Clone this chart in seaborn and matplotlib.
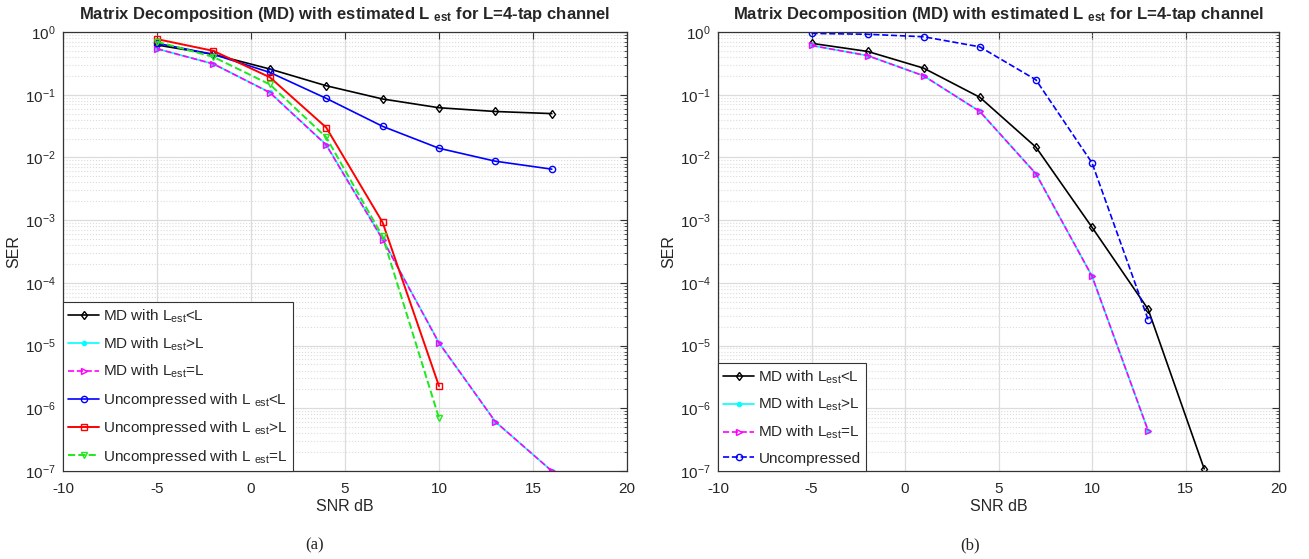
import numpy as np
import pandas as pd
import matplotlib
matplotlib.use("Agg")
import matplotlib.pyplot as plt
import seaborn as sns
from matplotlib.ticker import LogLocator, NullFormatter, MultipleLocator

# ---------------- data ----------------
snr = [-5, -2, 1, 4, 7, 10, 13, 16]

# panel (a)
a_md_lt = [0.62, 0.44, 0.257, 0.139, 0.0855, 0.062, 0.054, 0.050]
a_md_gt = [0.54, 0.31, 0.109, 0.016, 5.0e-4, 1.11e-5, 6.1e-7, 1.0e-7]
a_md_eq = [0.54, 0.31, 0.108, 0.0158, 4.9e-4, 1.10e-5, 6.1e-7, 1.0e-7]
a_un_lt = [0.66, 0.44, 0.227, 0.0875, 0.0313, 0.014, 0.0087, 0.0065]
snr_short = [-5, -2, 1, 4, 7, 10]
a_un_gt = [0.77, 0.50, 0.19, 0.030, 9.2e-4, 2.26e-6]
a_un_eq = [0.70, 0.40, 0.146, 0.021, 5.5e-4, 7.0e-7]

# panel (b)
b_md_lt = [0.66, 0.49, 0.265, 0.091, 0.0146, 7.7e-4, 3.8e-5, 1.08e-7]
snr_b7 = [-5, -2, 1, 4, 7, 10, 13]
b_md_gt = [0.61, 0.42, 0.20, 0.054, 0.0055, 1.28e-4, 4.4e-7]
b_md_eq = [0.61, 0.42, 0.20, 0.054, 0.0055, 1.28e-4, 4.4e-7]
b_uncomp = [0.95, 0.92, 0.84, 0.58, 0.173, 0.0082, 2.6e-5]

title = r"Matrix Decomposition (MD) with estimated L $_{\mathbf{est}}$ for L=4-tap channel"
lab_md_lt = r"MD with L$_{\mathregular{est}}$<L"
lab_md_gt = r"MD with L$_{\mathregular{est}}$>L"
lab_md_eq = r"MD with L$_{\mathregular{est}}$=L"
lab_un_lt = r"Uncompressed with L $_{\mathregular{est}}$<L"
lab_un_gt = r"Uncompressed with L $_{\mathregular{est}}$>L"
lab_un_eq = r"Uncompressed with L $_{\mathregular{est}}$=L"
lab_uncomp = "Uncompressed"

# ---------------- style ----------------
sns.set_style("white")
plt.rcParams["font.family"] = ["Liberation Sans", "DejaVu Sans"]
plt.rcParams["mathtext.fontset"] = "custom"
plt.rcParams["mathtext.rm"] = "Liberation Sans"
plt.rcParams["mathtext.it"] = "Liberation Sans:italic"
plt.rcParams["mathtext.bf"] = "Liberation Sans:bold"
plt.rcParams["axes.unicode_minus"] = False

fig = plt.figure(figsize=(13.09, 5.59), dpi=100)
ax1 = fig.add_axes([63/1309, 1-471/559, (627-63)/1309, (471-32)/559])
ax2 = fig.add_axes([718/1309, 1-471/559, (1279-718)/1309, (471-32)/559])

def line(ax, x, y, color, marker, ls, label, lw=1.2, ms=4.5, mfc="none"):
    sns.lineplot(x=x, y=y, ax=ax, color=color, marker=marker, linestyle=ls,
                 label=label, linewidth=lw, markersize=ms,
                 markeredgecolor=color, markerfacecolor=mfc,
                 markeredgewidth=1.0, estimator=None, sort=False)

GREEN = "#1fe81f"

line(ax1, snr, a_md_lt, "black", "d", "-", lab_md_lt)
line(ax1, snr, a_md_gt, "cyan", ".", "-", lab_md_gt, ms=6, mfc="cyan")
line(ax1, snr, a_md_eq, "magenta", ">", "--", lab_md_eq, ms=5)
line(ax1, snr, a_un_lt, "blue", "o", "-", lab_un_lt)
line(ax1, snr_short, a_un_gt, "red", "s", "-", lab_un_gt, lw=1.4, ms=4)
line(ax1, snr_short, a_un_eq, GREEN, "v", "--", lab_un_eq, lw=1.4, ms=5)

line(ax2, snr, b_md_lt, "black", "d", "-", lab_md_lt)
line(ax2, snr_b7, b_md_gt, "cyan", ".", "-", lab_md_gt, ms=6, mfc="cyan")
line(ax2, snr_b7, b_md_eq, "magenta", ">", "--", lab_md_eq, ms=5)
line(ax2, snr_b7, b_uncomp, "blue", "o", "--", lab_uncomp)

for ax in (ax1, ax2):
    ax.set_yscale("log")
    ax.set_xlim(-10, 20)
    ax.set_ylim(1e-7, 1)
    ax.xaxis.set_major_locator(MultipleLocator(5))
    ax.yaxis.set_major_locator(LogLocator(base=10, numticks=20))
    ax.yaxis.set_minor_locator(LogLocator(base=10, subs=np.arange(2, 10), numticks=20))
    ax.yaxis.set_minor_formatter(NullFormatter())
    ax.grid(True, which="major", axis="both", color="#dcdcdc", linewidth=0.9, linestyle="-")
    ax.grid(True, which="minor", axis="y", color="#dcdcdc", linewidth=0.8, linestyle=":")
    ax.set_axisbelow(True)
    ax.tick_params(which="both", direction="in", top=True, right=True,
                   labelsize=11, color="#333333")
    ax.tick_params(axis="x", which="major", pad=8)
    ax.tick_params(axis="y", which="major", pad=5)
    ax.tick_params(which="major", length=5, width=0.8)
    ax.tick_params(which="minor", length=2.5, width=0.6)
    for sp in ax.spines.values():
        sp.set_color("#333333")
        sp.set_linewidth(0.9)
    ax.set_xlabel("SNR dB", fontsize=11.5, labelpad=2)
    ax.set_ylabel("SER", fontsize=11.5, labelpad=3)
    ax.set_title(title, fontsize=12, fontweight="bold", pad=9)
    leg = ax.legend(loc="lower left", bbox_to_anchor=(0, 0), borderaxespad=0.0,
                    fontsize=11, frameon=True, fancybox=False, framealpha=1,
                    edgecolor="#333333", handlelength=2.0, handletextpad=0.3,
                    labelspacing=0.68, borderpad=0.35)
    leg.get_frame().set_linewidth(0.8)

fig.text(315/1309, 1-545/559, "(a)", ha="center", va="center",
         family=["Liberation Serif", "DejaVu Serif"], fontsize=12)
fig.text(970/1309, 1-545/559, "(b)", ha="center", va="center",
         family=["Liberation Serif", "DejaVu Serif"], fontsize=12)

fig.savefig("out.png", dpi=100)
